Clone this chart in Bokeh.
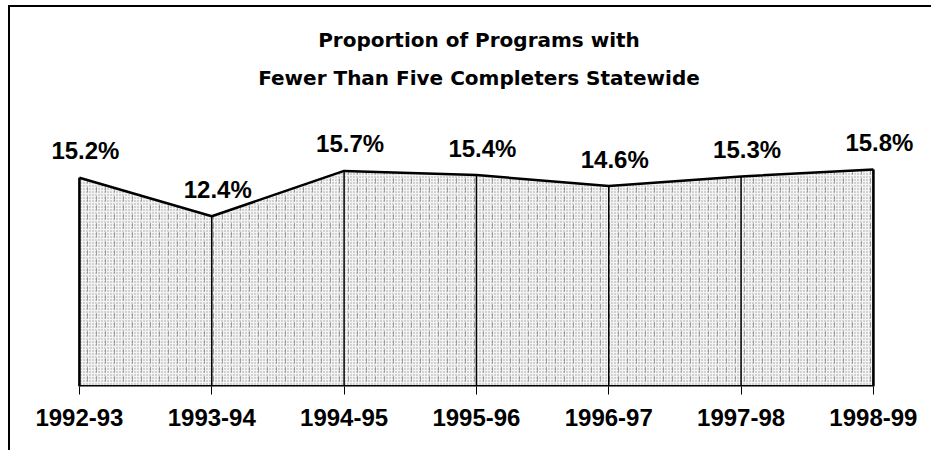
from bokeh.plotting import figure
from bokeh.models import Range1d, FixedTicker, Title, ColumnDataSource
from bokeh.core.properties import value
from bokeh.embed import file_html
from bokeh.resources import INLINE

years = ["1992-93", "1993-94", "1994-95", "1995-96", "1996-97", "1997-98", "1998-99"]
pct = [15.2, 12.4, 15.7, 15.4, 14.6, 15.3, 15.8]
pct_labels = [f"{v:.1f}%" for v in pct]
title_lines = ["Proportion of Programs with", "Fewer Than Five Completers Statewide"]

xs = list(range(len(years)))
zeros = [0] * len(xs)
src = ColumnDataSource(dict(x=xs, y=pct, base=zeros, lab=pct_labels))
ends = ColumnDataSource(dict(x=[xs[0], xs[-1]], y=[pct[0], pct[-1]], base=[0, 0]))

PX_PER_UNIT = 132.33
PX_PER_PCT = 13.73
FRAME_W = 905
FRAME_H = 284

p = figure(
    frame_width=FRAME_W, frame_height=FRAME_H,
    x_range=Range1d(-0.4, -0.4 + FRAME_W / PX_PER_UNIT),
    y_range=Range1d(0, FRAME_H / PX_PER_PCT),
    output_backend="svg", toolbar_location=None,
    y_axis_location=None,
    min_border_left=16, min_border_right=0, min_border_top=95, min_border_bottom=64,
    title=title_lines[0],
)
p.styles = {"border-top": "2px solid black", "border-left": "2px solid black",
            "margin-left": "8px", "margin-top": "5px"}
p.background_fill_color = "white"
p.border_fill_color = "white"
p.outline_line_color = None
p.xgrid.visible = False
p.ygrid.visible = False

p.title.align = "center"
p.title.text_font = "DejaVu Sans"
p.title.text_font_size = "20px"
p.title.text_font_style = "bold"
p.title.text_color = "black"
p.title.standoff = 0
t2 = Title(text=title_lines[1], align="center", text_font="DejaVu Sans",
           text_font_size="20px", text_font_style="bold", text_color="black",
           standoff=25)
p.add_layout(t2, "above")

# stippled area
p.varea(x="x", y1="base", y2="y", source=src, fill_color="#f4f4f4",
        hatch_pattern="dot", hatch_color="#7a7a7a", hatch_scale=3, hatch_weight=1, hatch_alpha=0.7)
p.varea(x="x", y1="base", y2="y", source=src, fill_alpha=0,
        hatch_pattern=":", hatch_color="#505050", hatch_scale=9, hatch_weight=1, hatch_alpha=0.45)

# vertical dividers
p.segment(x0="x", y0="base", x1="x", y1="y", source=src, line_color="black", line_width=1.5)
p.segment(x0="x", y0="base", x1="x", y1="y", source=ends, line_color="black", line_width=2.5)
# top edge and baseline
p.line(x="x", y="y", source=src, line_color="black", line_width=2.5)
p.line(x="x", y="base", source=src, line_color="black", line_width=3)

# value labels
p.text(x="x", y="y", text="lab", source=src, x_offset=6, y_offset=-27,
       text_align="center", text_baseline="middle",
       text_font=value("Liberation Sans"), text_font_size="24px",
       text_font_style="bold", text_color="black")

ax = p.xaxis[0]
ax.ticker = FixedTicker(ticks=xs)
ax.major_label_overrides = {i: y for i, y in zip(xs, years)}
ax.axis_line_color = None
ax.major_tick_in = 0
ax.major_tick_out = 8
ax.major_tick_line_color = "black"
ax.minor_tick_line_color = None
ax.major_label_standoff = 14
ax.major_label_text_font = "Liberation Sans"
ax.major_label_text_font_size = "24px"
ax.major_label_text_font_style = "bold"
ax.major_label_text_color = "black"

open("out.html", "w").write(file_html(p, INLINE))
